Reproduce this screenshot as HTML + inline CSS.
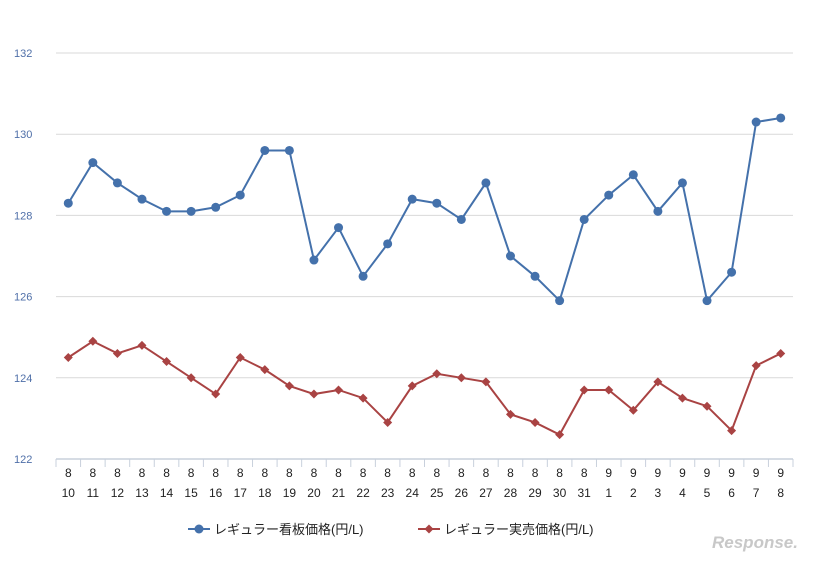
<!DOCTYPE html>
<html><head><meta charset="utf-8"><style>
body{margin:0;background:#fff;}
svg text{font-family:"Liberation Sans","Noto Sans CJK JP",sans-serif;}
</style></head><body>
<svg id="c" width="832" height="560" xmlns="http://www.w3.org/2000/svg"></svg>
<script>
const months=["8","8","8","8","8","8","8","8","8","8","8","8","8","8","8","8","8","8","8","8","8","8","9","9","9","9","9","9","9","9"];
const days=["10","11","12","13","14","15","16","17","18","19","20","21","22","23","24","25","26","27","28","29","30","31","1","2","3","4","5","6","7","8"];
const signPrice=[128.3,129.3,128.8,128.4,128.1,128.1,128.2,128.5,129.6,129.6,126.9,127.7,126.5,127.3,128.4,128.3,127.9,128.8,127.0,126.5,125.9,127.9,128.5,129.0,128.1,128.8,125.9,126.6,130.3,130.4];
const actualPrice=[124.5,124.9,124.6,124.8,124.4,124.0,123.6,124.5,124.2,123.8,123.6,123.7,123.5,122.9,123.8,124.1,124.0,123.9,123.1,122.9,122.6,123.7,123.7,123.2,123.9,123.5,123.3,122.7,124.3,124.6];
const yTicks=[122,124,126,128,130,132];
const NS="http://www.w3.org/2000/svg",svg=document.getElementById('c');
const L=56,R=793,T=53,B=459,yMin=122,yMax=132;
const bw=(R-L)/days.length;
const x=i=>L+bw*(i+0.5), y=v=>B-(v-yMin)/(yMax-yMin)*(B-T);
function mk(t,a,txt){const e=document.createElementNS(NS,t);for(const k in a)e.setAttribute(k,a[k]);if(txt!==undefined)e.textContent=txt;svg.appendChild(e);return e;}
yTicks.forEach(v=>{
 if(v>yMin){const g=mk('line',{x1:L,x2:R,y1:y(v),y2:y(v),stroke:'#d9d9d9','stroke-width':1});
 
 }
 const t=mk('text',{x:14,y:y(v)+4,'font-size':11,fill:'#4f6fa8'},v);
 
 
});
const ax=mk('line',{x1:L,x2:R,y1:B,y2:B,stroke:'#c8d0dc','stroke-width':1.5});


for(let i=0;i<=days.length;i++){const tk=mk('line',{x1:L+bw*i,x2:L+bw*i,y1:B,y2:B+8,stroke:'#c8d0dc'});
 
 }
days.forEach((d,i)=>{
 const m=mk('text',{x:x(i),y:477,'font-size':12,'text-anchor':'middle',fill:'#222'},months[i]);
 
 
 const t=mk('text',{x:x(i),y:497,'font-size':12,'text-anchor':'middle',fill:'#222'},d);
 
 
});
function series(vals,color,name,shape){
 const p=mk('polyline',{points:vals.map((v,i)=>x(i)+','+y(v)).join(' '),fill:'none',stroke:color,'stroke-width':2});
 
 
 vals.forEach((v,i)=>{let m;
  if(shape==='c')m=mk('circle',{cx:x(i),cy:y(v),r:4.5,fill:color});
  else m=mk('polygon',{points:`${x(i)},${y(v)-4.5} ${x(i)+4.5},${y(v)} ${x(i)},${y(v)+4.5} ${x(i)-4.5},${y(v)}`,fill:color});
  
  });
}
series(signPrice,'#4471ab','sign-price','c');
series(actualPrice,'#a94343','actual-price','d');
// legend
const lg1=mk('line',{x1:188,x2:210,y1:529,y2:529,stroke:'#4471ab','stroke-width':2});


const lc=mk('circle',{cx:199,cy:529,r:4.5,fill:'#4471ab'});


const lt1=mk('text',{x:214,y:534,'font-size':13,fill:'#222'},'レギュラー看板価格(円/L)');


const lg2=mk('line',{x1:418,x2:440,y1:529,y2:529,stroke:'#a94343','stroke-width':2});


const ld=mk('polygon',{points:'429,524.5 433.5,529 429,533.5 424.5,529',fill:'#a94343'});


const lt2=mk('text',{x:444,y:534,'font-size':13,fill:'#222'},'レギュラー実売価格(円/L)');


const logo=mk('text',{x:712,y:548,'font-size':17,'font-style':'italic',fill:'#c8c8c8','font-weight':'bold'},'Response.');


</script>
</body></html>
